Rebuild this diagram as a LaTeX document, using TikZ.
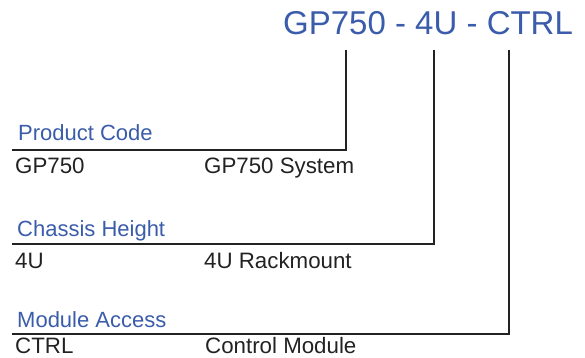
\documentclass[tikz,border=0pt]{standalone}
\usepackage{fontspec}
\setmainfont{Liberation Sans}
\definecolor{codeblue}{HTML}{3A5CAA}
\definecolor{txtgray}{HTML}{222222}
\begin{document}
\begin{tikzpicture}[x=1pt,y=-1pt,
  title/.style={anchor=base west,inner sep=0pt,text=codeblue,font=\fontsize{33}{38}\selectfont},
  cat/.style={anchor=base west,inner sep=0pt,text=codeblue,font=\fontsize{22}{26}\selectfont},
  val/.style={anchor=base west,inner sep=0pt,text=txtgray,font=\fontsize{22.3}{26}\selectfont},
  leader/.style={draw=txtgray,line width=2.2pt}]
\useasboundingbox (0,0) rectangle (585,357);
\node[title] (t) at (283,34) {GP750 - 4U - CTRL};
% connector tops
\coordinate (p0) at (346,50);
\coordinate (c0) at (434,50);
\coordinate (m0) at (509,50);
% line left ends
\coordinate (p1) at (12,150);
\coordinate (c1) at (12,244);
\coordinate (m1) at (12,334);
\draw[leader] (p0) |- (p1);
\draw[leader] (c0) |- (c1);
\draw[leader] (m0) |- (m1);
\node[cat] (pc) at (18,140) {Product Code};
\node[val] (pv) at (15,173) {GP750};
\node[val] (pd) at (204,173) {GP750 System};
\node[cat] (cc) at (17,236) {Chassis Height};
\node[val] (cv) at (15,268) {4U};
\node[val] (cd) at (204,268) {4U Rackmount};
\node[cat] (mc) at (17,327) {Module Access};
\node[val] (mv) at (15,353) {CTRL};
\node[val] (md) at (205,353) {Control Module};
\end{tikzpicture}
\end{document}
